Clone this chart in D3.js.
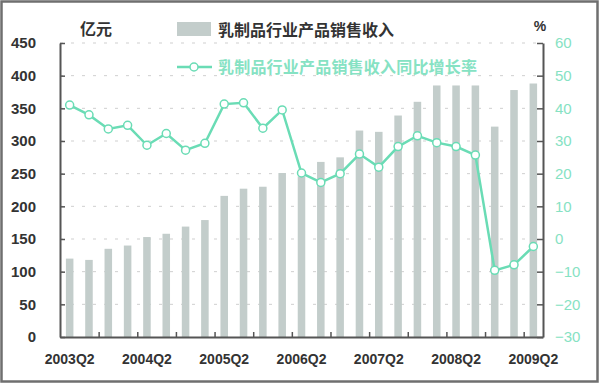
<!DOCTYPE html>
<html>
<head>
<meta charset="utf-8">
<script src="https://cdn.jsdelivr.net/npm/d3@7"></script>
<style>
  body { margin: 0; background: #fff; }
  .num { font-family: "Liberation Sans", Arial, sans-serif; }
  .cjk { font-family: "Noto Sans CJK SC", sans-serif; }
</style>
</head>
<body>
<div class="chart-container"></div>
<script>
// Data.
const quarters = [
  "2003Q2", "2003Q3", "2003Q4", "2004Q1", "2004Q2", "2004Q3", "2004Q4",
  "2005Q1", "2005Q2", "2005Q3", "2005Q4", "2006Q1", "2006Q2", "2006Q3",
  "2006Q4", "2007Q1", "2007Q2", "2007Q3", "2007Q4", "2008Q1", "2008Q2",
  "2008Q3", "2008Q4", "2009Q1", "2009Q2",
];
const sales = [
  120, 118, 135, 140, 153, 158, 169, 179, 216, 227, 230, 251, 246, 268,
  275, 316, 314, 339, 360, 385, 385, 385, 322, 378, 388,
];
const growth = [
  41, 38, 33.7, 34.8, 28.7, 32.3, 27.2, 29.3, 41.3, 41.7, 33.9, 39.5, 20.2,
  17.3, 20, 26, 22, 28.3, 31.6, 29.5, 28.3, 25.7, -9.6, -7.9, -2.3,
];
const leftTicks = [0, 50, 100, 150, 200, 250, 300, 350, 400, 450];
const rightTicks = [-30, -20, -10, 0, 10, 20, 30, 40, 50, 60];
const labelQuarters = ["2003Q2", "2004Q2", "2005Q2", "2006Q2", "2007Q2", "2008Q2", "2009Q2"];
const barName = "乳制品行业产品销售收入";
const lineName = "乳制品行业产品销售收入同比增长率";

const W = 600, H = 384;
const plot = { left: 60, right: 543, top: 43, bottom: 337 };

const barColor = "#c3cdcb";
const lineColor = "#6adcb5";
const tealText = "#86e2c3";
const axisColor = "#555";

const svg = d3.select(".chart-container")
  .append("svg")
  .attr("width", W)
  .attr("height", H);

svg.append("rect")
  .attr("x", 1.5).attr("y", 1.5)
  .attr("width", 596).attr("height", 380)
  .attr("fill", "#fff")
  .attr("stroke", "#6f6f6f")
  .attr("stroke-width", 2.5);

// Scales.
const pin = 0.61;
const x = d3.scaleBand()
  .domain(quarters)
  .range([plot.left, plot.right])
  .paddingInner(pin)
  .paddingOuter(pin / 2);
const xb = d3.scaleLinear().domain([0, quarters.length]).range([plot.left, plot.right]);
const yL = d3.scaleLinear().domain([0, 450]).range([plot.bottom, plot.top]);
const yR = d3.scaleLinear().domain([-30, 60]).range([plot.bottom, plot.top]);

// Gridlines.
svg.append("g")
  .selectAll("line")
  .data(leftTicks.filter((d) => d > 0))
  .join("line")
  .attr("x1", plot.left)
  .attr("x2", plot.right)
  .attr("y1", (d) => yL(d))
  .attr("y2", (d) => yL(d))
  .attr("stroke", "#cfcfcf")
  .attr("stroke-width", 1)
  .attr("stroke-dasharray", "3,8");

// Bars.
svg.append("g")
  .selectAll("rect")
  .data(sales)
  .join("rect")
  .attr("x", (d, i) => x(quarters[i]))
  .attr("width", x.bandwidth())
  .attr("y", (d) => yL(d))
  .attr("height", (d) => yL(0) - yL(d))
  .attr("fill", barColor);

// Axes.
const leftAxis = svg.append("g")
  .attr("transform", `translate(${plot.left},0)`)
  .call(d3.axisLeft(yL).tickValues(leftTicks).tickSizeInner(-5).tickSizeOuter(0).tickPadding(24));
leftAxis.select(".domain").attr("stroke", axisColor).attr("stroke-width", 2);
leftAxis.selectAll(".tick line").attr("stroke", axisColor).attr("stroke-width", 1.5);
leftAxis.selectAll("text")
  .attr("class", "num")
  .attr("font-size", 15)
  .attr("font-weight", "bold")
  .attr("fill", "#333");

const rightAxis = svg.append("g")
  .attr("transform", `translate(${plot.right},0)`)
  .call(d3.axisRight(yR).tickValues(rightTicks).tickSizeInner(-6).tickSizeOuter(0).tickPadding(12));
rightAxis.select(".domain").attr("stroke", axisColor).attr("stroke-width", 2);
rightAxis.selectAll(".tick line").attr("stroke", axisColor).attr("stroke-width", 1.5);
rightAxis.selectAll("text")
  .attr("font-family", "Liberation Sans, sans-serif")
  .attr("font-size", 15)
  .attr("fill", tealText);

const bottomTicks = d3.range(2, quarters.length, 2);
const bottomAxis = svg.append("g")
  .attr("transform", `translate(0,${plot.bottom})`)
  .call(d3.axisBottom(xb).tickValues(bottomTicks).tickSizeInner(-5).tickSizeOuter(0).tickFormat(""));
bottomAxis.select(".domain").attr("stroke", axisColor).attr("stroke-width", 2);
bottomAxis.selectAll(".tick line").attr("stroke", axisColor).attr("stroke-width", 1.5);

const labelAxis = svg.append("g")
  .attr("transform", `translate(0,${plot.bottom})`)
  .call(d3.axisBottom(x).tickValues(labelQuarters).tickSize(0).tickPadding(17));
labelAxis.select(".domain").remove();
labelAxis.selectAll("text")
  .attr("class", "num")
  .attr("font-size", 14)
  .attr("font-weight", "bold")
  .attr("fill", "#333");

// Line.
const line = d3.line()
  .x((d, i) => x(quarters[i]) + x.bandwidth() / 2)
  .y((d) => yR(d));

svg.append("path")
  .datum(growth)
  .attr("d", line)
  .attr("fill", "none")
  .attr("stroke", lineColor)
  .attr("stroke-width", 2.5);

svg.append("g")
  .selectAll("circle")
  .data(growth)
  .join("circle")
  .attr("cx", (d, i) => x(quarters[i]) + x.bandwidth() / 2)
  .attr("cy", (d) => yR(d))
  .attr("r", 4)
  .attr("fill", "#fff")
  .attr("stroke", lineColor)
  .attr("stroke-width", 1.5);

// Unit labels.
svg.append("text")
  .attr("class", "cjk")
  .attr("x", 80).attr("y", 35)
  .attr("font-size", 16)
  .attr("font-weight", "bold")
  .attr("fill", "#333")
  .text("亿元");

svg.append("text")
  .attr("class", "num")
  .attr("x", 540).attr("y", 31)
  .attr("text-anchor", "middle")
  .attr("font-size", 14)
  .attr("font-weight", "bold")
  .attr("fill", "#333")
  .text("%");

// Legend.
const legend = svg.append("g").attr("class", "legend");
legend.append("rect")
  .attr("x", 177).attr("y", 22)
  .attr("width", 34).attr("height", 14)
  .attr("fill", barColor);
legend.append("text")
  .attr("class", "cjk")
  .attr("x", 218).attr("y", 36)
  .attr("font-size", 16)
  .attr("font-weight", "bold")
  .attr("fill", "#333")
  .text(barName);

legend.append("line")
  .attr("x1", 177).attr("x2", 212)
  .attr("y1", 67).attr("y2", 67)
  .attr("stroke", lineColor)
  .attr("stroke-width", 2.5);
legend.append("circle")
  .attr("cx", 194).attr("cy", 67).attr("r", 4)
  .attr("fill", "#fff")
  .attr("stroke", lineColor)
  .attr("stroke-width", 1.5);
legend.append("text")
  .attr("class", "cjk")
  .attr("x", 218).attr("y", 73)
  .attr("font-size", 16)
  .attr("font-weight", "bold")
  .attr("fill", tealText)
  .attr("textLength", 259)
  .attr("lengthAdjust", "spacing")
  .text(lineName);
</script>
</body>
</html>
